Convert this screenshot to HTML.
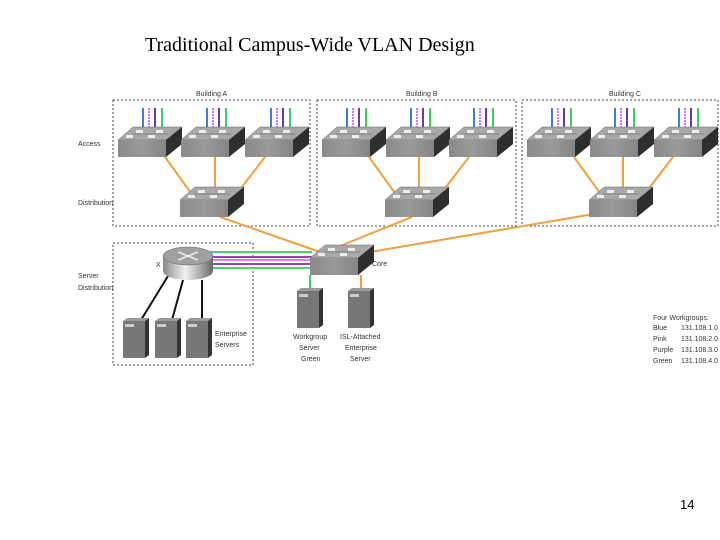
<!DOCTYPE html>
<html><head><meta charset="utf-8"><style>
html,body{margin:0;padding:0;background:#fff;}
svg{display:block;}
</style></head><body>
<svg width="720" height="540" viewBox="0 0 720 540" xmlns="http://www.w3.org/2000/svg">
<defs>
<linearGradient id="front" x1="0" y1="0" x2="1" y2="0">
<stop offset="0" stop-color="#8a8a8a"/><stop offset="0.5" stop-color="#9a9a9a"/><stop offset="1" stop-color="#858585"/>
</linearGradient>
<linearGradient id="rtr" x1="0" y1="0" x2="1" y2="0">
<stop offset="0" stop-color="#8a8a8a"/><stop offset="0.45" stop-color="#f2f2f2"/><stop offset="1" stop-color="#6a6a6a"/>
</linearGradient>
<g id="sw">
<polygon points="0,13 48,13 64,0 15,0" fill="#a8a8a8" stroke="#666" stroke-width="0.5"/>
<rect x="0" y="13" width="48" height="17" fill="url(#front)"/>
<polygon points="48,13 64,0 64,17 48,30" fill="#2e2e2e"/>
<rect x="18" y="3" width="7" height="3" fill="#eee"/><rect x="38" y="3" width="7" height="3" fill="#eee"/>
<rect x="8" y="8" width="7" height="3" fill="#eee"/><rect x="30" y="8" width="7" height="3" fill="#eee"/>
<line x1="14" y1="7" x2="50" y2="7" stroke="#777" stroke-width="0.8"/>
</g>
<g id="vl">
<line x1="0" y1="0" x2="0" y2="22" stroke="#3a7fd0" stroke-width="2"/>
<line x1="6" y1="0" x2="6" y2="22" stroke="#e070e0" stroke-width="2" stroke-dasharray="2,1"/>
<line x1="12" y1="0" x2="12" y2="22" stroke="#6a3aa0" stroke-width="2"/>
<line x1="19" y1="0" x2="19" y2="22" stroke="#3ad060" stroke-width="2"/>
</g>
<g id="srv">
<polygon points="0,3 4,0 26,0 22,3" fill="#9a9a9a"/>
<rect x="0" y="3" width="22" height="37" fill="#777"/>
<polygon points="22,3 26,0 26,37 22,40" fill="#333"/>
<rect x="2" y="6" width="9" height="3" fill="#ccc"/>
</g>
</defs>

<text x="145" y="51" font-family="Liberation Serif" font-size="20" fill="#000">Traditional Campus-Wide VLAN Design</text>

<g fill="none" stroke="#444" stroke-width="1" stroke-dasharray="2,2">
<rect x="113" y="100" width="197" height="126"/>
<rect x="317" y="100" width="199" height="126"/>
<rect x="522" y="100" width="196" height="126"/>
<rect x="113" y="243" width="140" height="122"/>
</g>

<g font-family="Liberation Sans" font-size="7" fill="#333">
<text x="196" y="96">Building A</text>
<text x="406" y="96">Building B</text>
<text x="609" y="96">Building C</text>
<text x="78" y="146">Access</text>
<text x="78" y="205">Distribution</text>
<text x="78" y="278">Server</text>
<text x="78" y="290">Distribution</text>
<text x="156" y="267">X</text>
<text x="372" y="266">Core</text>
<text x="215" y="336">Enterprise</text>
<text x="215" y="347">Servers</text>
<text x="293" y="339">Workgroup</text>
<text x="299" y="350">Server</text>
<text x="301" y="361">Green</text>
<text x="340" y="339">ISL-Attached</text>
<text x="345" y="350">Enterprise</text>
<text x="350" y="361">Server</text>
<text x="653" y="320">Four Workgroups:</text>
<text x="653" y="330">Blue</text><text x="681" y="330">131.108.1.0</text>
<text x="653" y="341">Pink</text><text x="681" y="341">131.108.2.0</text>
<text x="653" y="352">Purple</text><text x="681" y="352">131.108.3.0</text>
<text x="653" y="363">Green</text><text x="681" y="363">131.108.4.0</text>
</g>

<!-- orange links -->
<g stroke="#f0a040" stroke-width="2" fill="none">
<line x1="165" y1="157" x2="196" y2="200"/>
<line x1="215" y1="157" x2="215" y2="190"/>
<line x1="265" y1="157" x2="232" y2="200"/>
<line x1="369" y1="157" x2="400" y2="200"/>
<line x1="419" y1="157" x2="419" y2="190"/>
<line x1="469" y1="157" x2="436" y2="200"/>
<line x1="574" y1="157" x2="605" y2="200"/>
<line x1="623" y1="157" x2="623" y2="190"/>
<line x1="673" y1="157" x2="640" y2="200"/>
<line x1="220" y1="217" x2="320" y2="252"/>
<line x1="412" y1="217" x2="340" y2="246"/>
<line x1="600" y1="213" x2="370" y2="252"/>
<line x1="361" y1="275" x2="361" y2="290"/>
</g>
<line x1="310" y1="275" x2="310" y2="290" stroke="#3ad060" stroke-width="2"/>

<!-- vlan colored lines -->
<g stroke-width="2">
<line x1="210" y1="252" x2="312" y2="252" stroke="#4ed070"/>
<line x1="210" y1="257" x2="312" y2="257" stroke="#8a4ab0"/>
<line x1="210" y1="260" x2="312" y2="260" stroke="#e080e0"/>
<line x1="210" y1="264" x2="312" y2="264" stroke="#8a4ab0"/>
<line x1="210" y1="268" x2="312" y2="268" stroke="#4ed070"/>
</g>

<g>
<use href="#vl" x="143" y="108"/><use href="#vl" x="207" y="108"/><use href="#vl" x="271" y="108"/>
<use href="#vl" x="347" y="108"/><use href="#vl" x="411" y="108"/><use href="#vl" x="474" y="108"/>
<use href="#vl" x="552" y="108"/><use href="#vl" x="615" y="108"/><use href="#vl" x="679" y="108"/>
</g>

<g>
<use href="#sw" x="118" y="127"/><use href="#sw" x="181" y="127"/><use href="#sw" x="245" y="127"/>
<use href="#sw" x="322" y="127"/><use href="#sw" x="386" y="127"/><use href="#sw" x="449" y="127"/>
<use href="#sw" x="527" y="127"/><use href="#sw" x="590" y="127"/><use href="#sw" x="654" y="127"/>
<use href="#sw" x="180" y="187"/><use href="#sw" x="385" y="187"/><use href="#sw" x="589" y="187"/>
<use href="#sw" x="310" y="245"/>
</g>

<!-- router -->
<g>
<line x1="168" y1="276" x2="141" y2="320" stroke="#111" stroke-width="2"/>
<line x1="183" y1="280" x2="172" y2="320" stroke="#111" stroke-width="2"/>
<line x1="202" y1="280" x2="202" y2="320" stroke="#111" stroke-width="2"/>
<path d="M163,256 L163,271 A25,9 0 0 0 213,271 L213,256 Z" fill="url(#rtr)"/>
<ellipse cx="188" cy="256" rx="25" ry="9" fill="#a0a0a0" stroke="#666" stroke-width="0.5"/>
<path d="M178,252 L198,260 M198,252 L178,260" stroke="#eee" stroke-width="1.5"/>
</g>

<use href="#srv" x="123" y="318"/><use href="#srv" x="155" y="318"/><use href="#srv" x="186" y="318"/>
<use href="#srv" x="297" y="288"/><use href="#srv" x="348" y="288"/>

<text x="680" y="509" font-family="Liberation Sans" font-size="13" fill="#000">14</text>
</svg>
</body></html>
